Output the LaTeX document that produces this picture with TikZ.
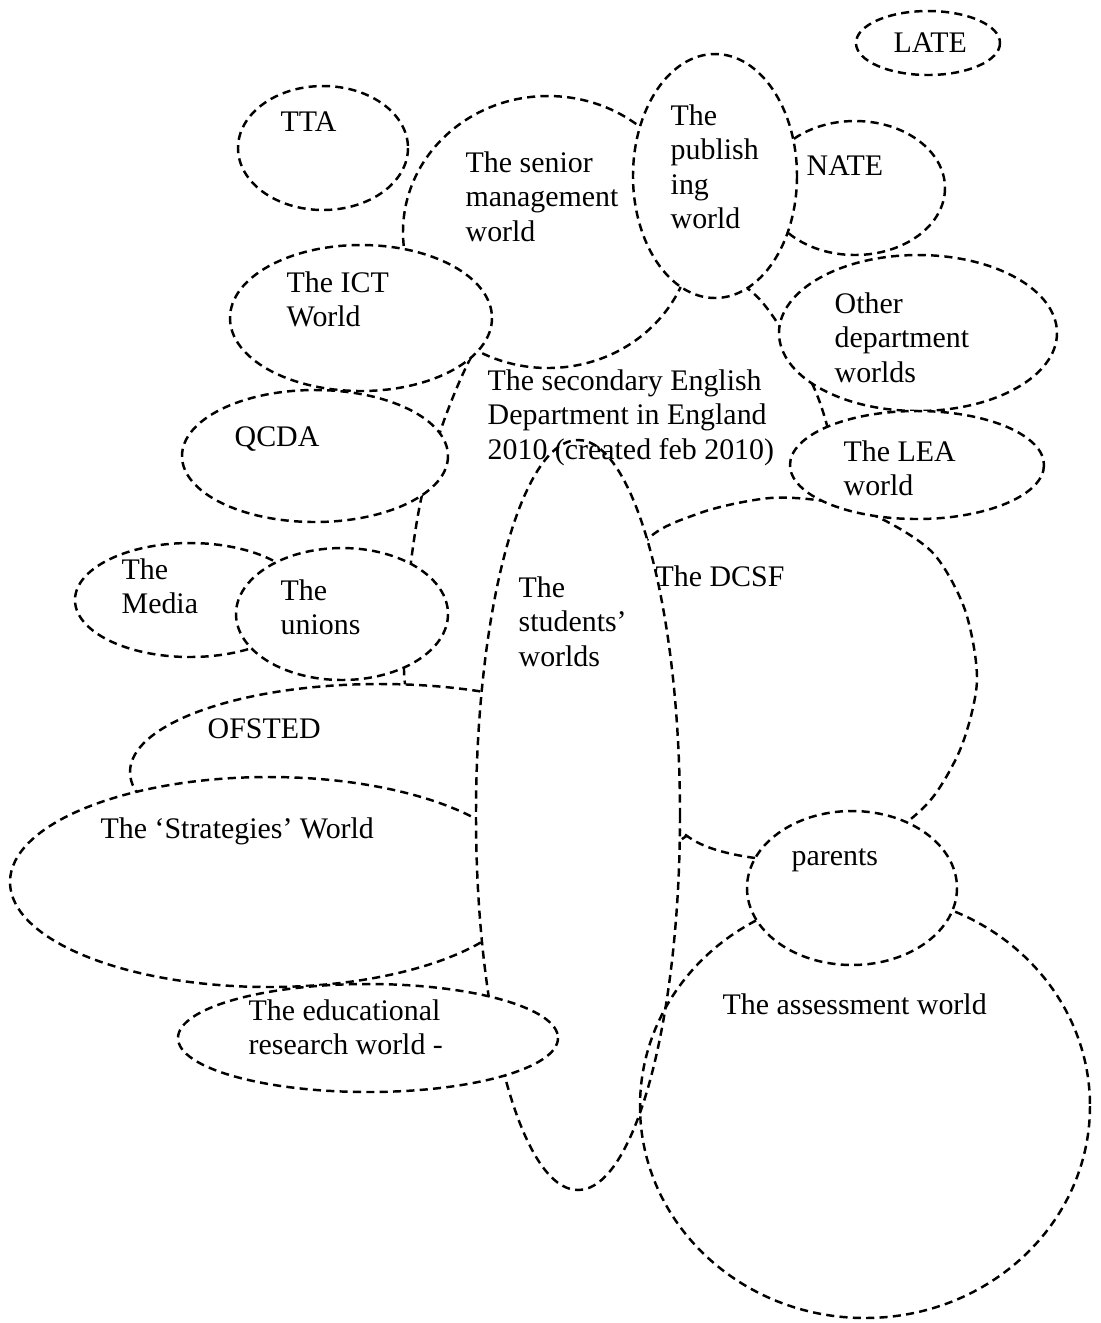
\documentclass[tikz,border=0pt]{standalone}
\usepackage{fontspec}
\setmainfont{Liberation Serif}
\begin{document}
\begin{tikzpicture}[x=0.01cm,y=-0.01cm,
    world/.style={draw,fill=white,line width=0.7pt,dash pattern=on 2.3pt off 1.5pt},
    txt/.style={anchor=north west,inner sep=0pt,align=left,font=\fontsize{8.5}{9.75}\selectfont}]
  \useasboundingbox (0,0) rectangle (1101,1323);
  % the department, behind all the other worlds
  \draw[world] plot[smooth cycle] coordinates {(530,282) (478,345) (446,415) (422,495) (410,570)
    (405,640) (406,690) (430,770) (490,850) (580,880) (665,850) (760,770) (835,620) (848,530)
    (832,445) (815,390) (782,330) (752,292) (700,262) (620,252)};
  % DCSF
  \draw[world] plot[smooth cycle] coordinates {(615,640) (643,545) (700,513) (770,498) (830,502)
    (880,518) (933,553) (965,610) (977,680) (962,745) (933,797) (895,830) (830,858) (755,858)
    (690,838) (625,770)};
  \draw[world] (323,148) ellipse [x radius=85,y radius=62];
  \draw[world] (928,43) ellipse [x radius=72,y radius=32];
  \draw[world] (548,232) ellipse [x radius=145,y radius=136];
  \draw[world] (855,188) ellipse [x radius=90,y radius=67];
  \draw[world] (715,176) ellipse [x radius=82,y radius=122];
  \draw[world] (918,333) ellipse [x radius=139,y radius=78];
  \draw[world] (917,465) ellipse [x radius=127,y radius=54];
  \draw[world] (361,318) ellipse [x radius=131,y radius=73];
  \draw[world] (315,456) ellipse [x radius=133,y radius=66];
  \draw[world] (190,600) ellipse [x radius=115,y radius=57];
  \draw[world] (380,772) ellipse [x radius=250,y radius=88];
  \draw[world] (342,614) ellipse [x radius=106,y radius=66];
  \draw[world] (269,882) ellipse [x radius=259,y radius=105];
  \draw[world] (578,815) ellipse [x radius=102,y radius=375];
  \draw[world] (368,1038) ellipse [x radius=190,y radius=54];
  \draw[world,fill=none] (865,1106) ellipse [x radius=225,y radius=212];
  \draw[world] (852,888) ellipse [x radius=105,y radius=77];
  % texts
  \node[txt] (late) at (893,32) {LATE};
  \node[txt] (tta) at (280,111) {TTA};
  \node[txt] (senior) at (465,151) {The senior\\management\\world};
  \node[txt] (pub) at (670,104) {The\\publish\\ing\\world};
  \node[txt] (nate) at (806,155) {NATE};
  \node[txt] (ict) at (286,271) {The ICT\\World};
  \node[txt] (other) at (834,292) {Other\\department\\worlds};
  \node[txt] (dept) at (487,369) {The secondary English\\Department in England\\2010 (created feb 2010)};
  \node[txt] (lea) at (843,440) {The LEA\\world};
  \node[txt] (qcda) at (234,426) {QCDA};
  \node[txt] (media) at (121,558) {The\\Media};
  \node[txt] (unions) at (280,579) {The\\unions};
  \node[txt] (students) at (518,576) {The\\students'\\worlds};
  \node[txt] (dcsf) at (655,565) {The DCSF};
  \node[txt] (ofsted) at (207,718) {OFSTED};
  \node[txt] (strat) at (100,817) {The `Strategies' World};
  \node[txt] (parents) at (791,848) {parents};
  \node[txt] (edu) at (248,999) {The educational\\research world -};
  \node[txt] (assess) at (722,993) {The assessment world};
\end{tikzpicture}
\end{document}
